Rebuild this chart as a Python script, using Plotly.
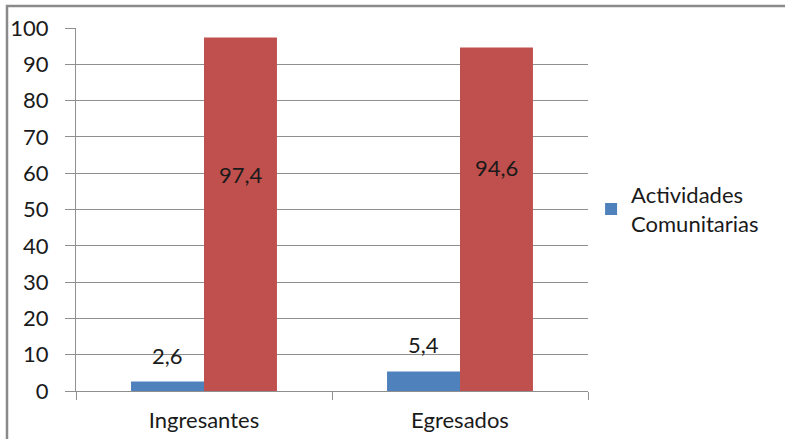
import plotly.graph_objects as go

# Participation in community activities (%)
categories = ["Ingresantes", "Egresados"]
si_values = [2.6, 5.4]
no_values = [97.4, 94.6]
series_name = "Actividades<br>Comunitarias"
y_ticks = list(range(0, 101, 10))

BLUE = "#4F81BD"
RED = "#C0504D"
GRID = "#8F8F8F"
FONT = "Lato, Arial, sans-serif"
TXT = "#1A1A1A"


def fmt(v):
    return f"{v:.1f}".replace(".", ",")


fig = go.Figure()
fig.add_trace(go.Bar(
    x=categories, y=si_values, name=series_name,
    marker=dict(color=BLUE, line=dict(width=0)),
    showlegend=True,
))
fig.add_trace(go.Bar(
    x=categories, y=no_values, name="",
    marker=dict(color=RED, line=dict(width=0)),
    showlegend=False,
))

annotations = []
# small values sit above their bars
for c, v in zip(categories, si_values):
    annotations.append(dict(
        x=c, y=v, xref="x", yref="y", text=fmt(v), showarrow=False,
        xshift=-36.5, yanchor="bottom", yshift=11,
        font=dict(family=FONT, size=22, color=TXT),
    ))
# large values are placed inside their bars
for c, v, ly in zip(categories, no_values, [59.7, 61.7]):
    annotations.append(dict(
        x=c, y=ly, xref="x", yref="y", text=fmt(v), showarrow=False,
        xshift=36.5, yanchor="middle",
        font=dict(family=FONT, size=22, color=TXT),
    ))

fig.update_layout(
    width=785, height=439,
    margin=dict(l=76, r=197, t=28, b=48, autoexpand=False),
    paper_bgcolor="white", plot_bgcolor="white",
    barmode="group", bargap=0.43, bargroupgap=0,
    font=dict(family=FONT, size=22, color=TXT),
    annotations=annotations,
    legend=dict(
        x=1.006, y=0.598, xanchor="left", yanchor="top",
        font=dict(family=FONT, size=22, color=TXT),
        bgcolor="rgba(0,0,0,0)", itemwidth=30,
    ),
    shapes=[dict(
        type="rect", xref="paper", yref="paper",
        x0=(7 - 76) / 512, x1=(830 - 76) / 512,
        y0=(390.6 - 480) / 362.6, y1=(390.6 - 6) / 362.6,
        line=dict(color="#8A8A8A", width=2.5), fillcolor="rgba(0,0,0,0)",
        layer="below",
    )],
)

fig.update_xaxes(
    type="category", showgrid=False, automargin=False,
    showline=True, linecolor=GRID, linewidth=1.2,
    ticks="outside", tickson="boundaries", ticklen=8,
    tickcolor=GRID, tickwidth=1.2,
    tickfont=dict(family=FONT, size=22, color=TXT),
    ticklabelstandoff=9,
)
fig.update_yaxes(
    range=[0, 100], tickvals=y_ticks, automargin=False,
    showgrid=True, gridcolor=GRID, gridwidth=1.2,
    showline=True, linecolor=GRID, linewidth=1.2,
    ticks="outside", ticklen=10, tickcolor=GRID, tickwidth=1.2,
    tickfont=dict(family=FONT, size=22, color=TXT),
    ticklabelstandoff=12, zeroline=False,
)

fig.write_html("out.html")
